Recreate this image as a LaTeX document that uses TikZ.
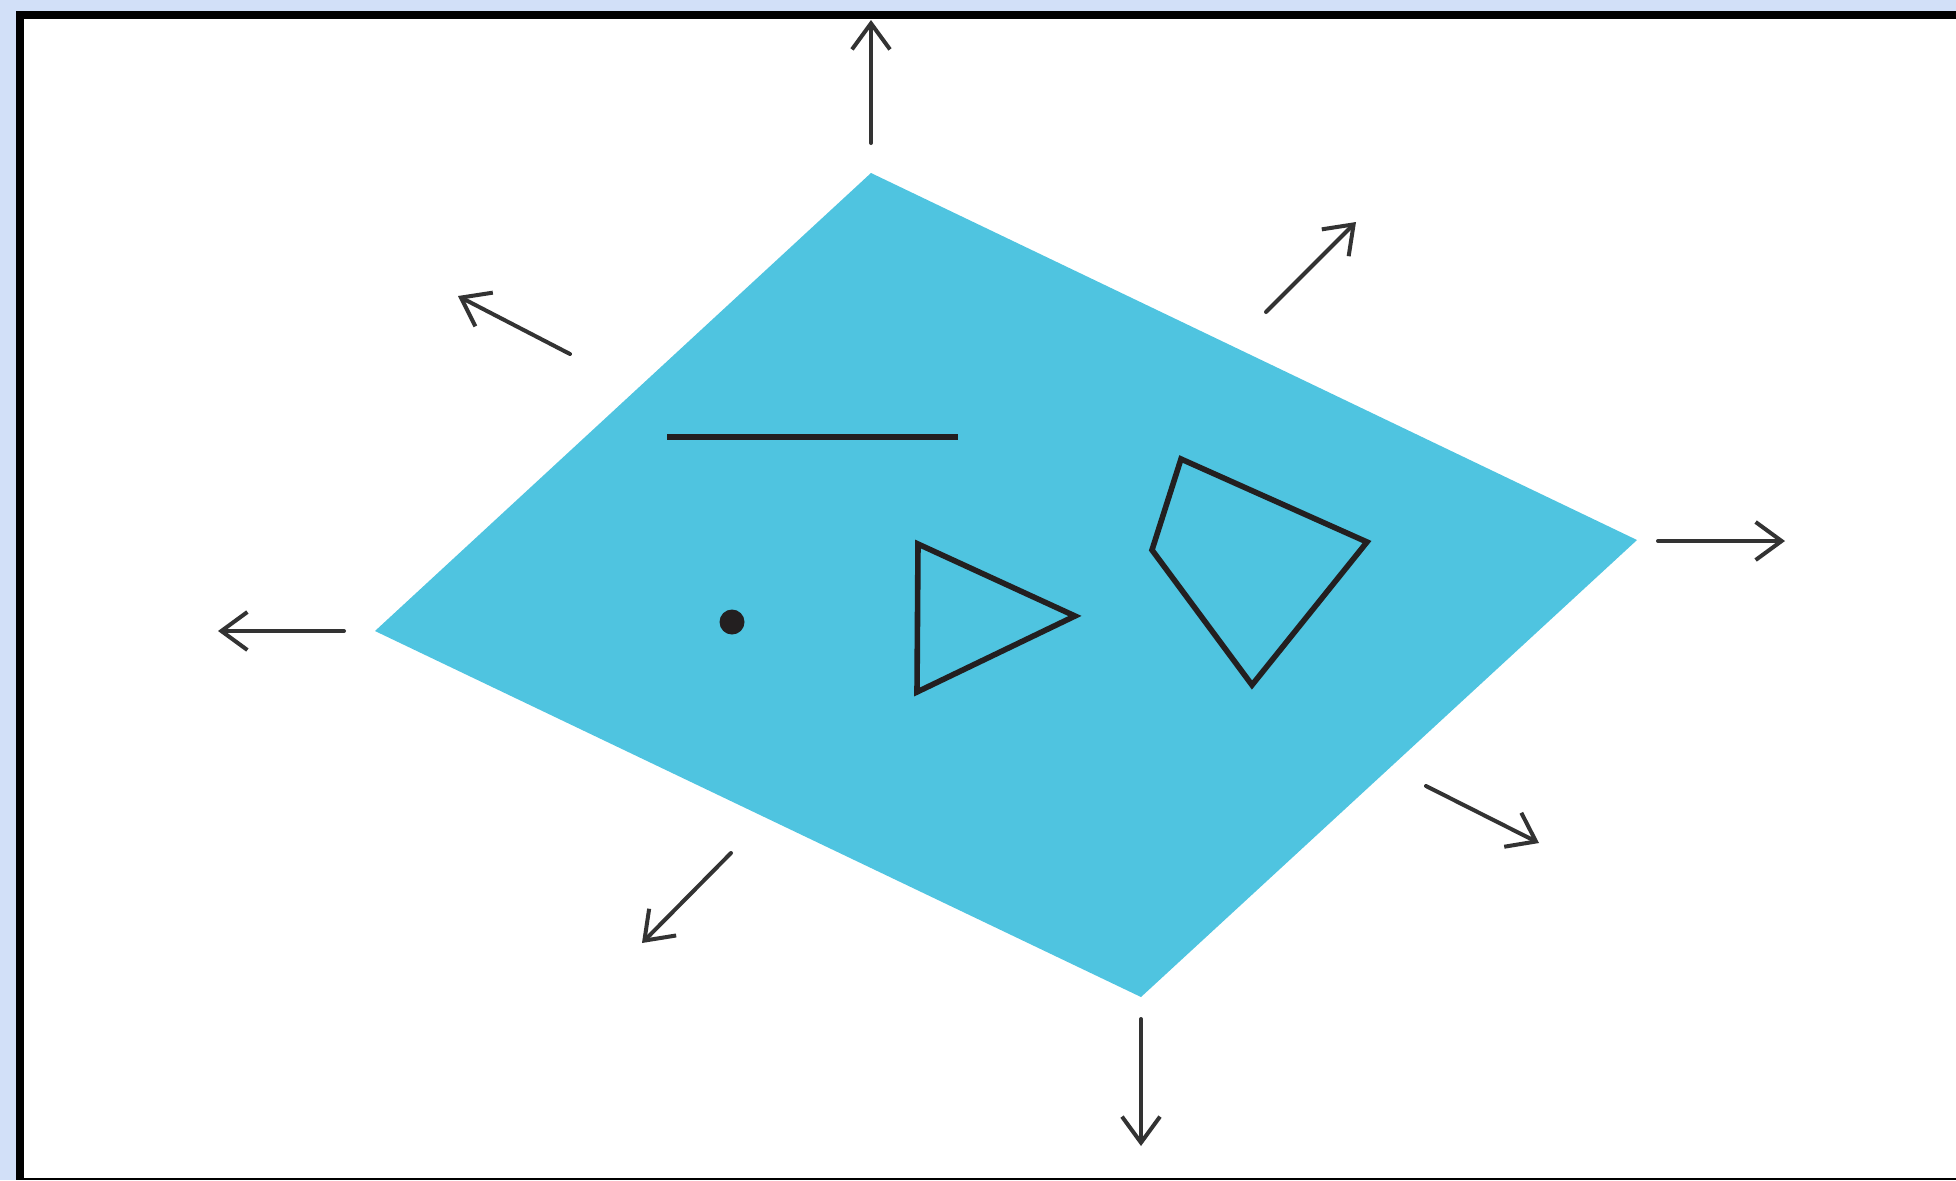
\documentclass[tikz,border=0pt]{standalone}
\usetikzlibrary{arrows.meta}
\definecolor{bgblue}{RGB}{210,224,248}
\definecolor{plane}{RGB}{79,196,224}
\definecolor{ink}{RGB}{35,31,32}
\definecolor{arrowink}{RGB}{51,51,51}
\tikzset{
  shapeline/.style={draw=ink, line width=2.8pt, line join=miter},
  outarrow/.style={draw=arrowink, line width=2pt, line cap=round,
    -{Straight Barb[length=13pt,width=19pt,line width=2pt]}},
}
\begin{document}
\begin{tikzpicture}[x=0.5pt,y=-0.5pt]
\useasboundingbox (0,0) rectangle (1956,1180);
% background and frame
\fill[bgblue] (0,0) rectangle (1956,1180);
\fill[black] (16,11) rectangle (1956,1180);
\fill[white] (24,19) rectangle (1956,1178);
% plane
\coordinate (T) at (871,173);
\coordinate (R) at (1637,540);
\coordinate (B) at (1141,997);
\coordinate (L) at (375,631);
\fill[plane] (T) -- (R) -- (B) -- (L) -- cycle;
% line segment
\coordinate (s1) at (667,437);
\coordinate (s2) at (958,437);
\draw[shapeline] (s1) -- (s2);
% point
\fill[ink] (732,622) circle (12.5);
% triangle
\coordinate (t1) at (918,544);
\coordinate (t2) at (1075,616);
\coordinate (t3) at (917,692);
\draw[shapeline] (t1) -- (t2) -- (t3) -- cycle;
% quadrilateral
\coordinate (q1) at (1181,459);
\coordinate (q2) at (1367,542);
\coordinate (q3) at (1252,685);
\coordinate (q4) at (1152,550);
\draw[shapeline] (q1) -- (q2) -- (q3) -- (q4) -- cycle;
% arrows
\coordinate (a1s) at (871,143);  \coordinate (a1e) at (871,20);
\coordinate (a2s) at (1266,312); \coordinate (a2e) at (1356,222);
\coordinate (a3s) at (1658,541); \coordinate (a3e) at (1785,541);
\coordinate (a4s) at (1426,786); \coordinate (a4e) at (1539,843);
\coordinate (a5s) at (1141,1019);\coordinate (a5e) at (1141,1146);
\coordinate (a6s) at (731,853);  \coordinate (a6e) at (642,943);
\coordinate (a7s) at (344,631);  \coordinate (a7e) at (218,631);
\coordinate (a8s) at (570,354);  \coordinate (a8e) at (458,296);
\foreach \i in {1,...,8} \draw[outarrow] (a\i s) -- (a\i e);
\end{tikzpicture}
\end{document}
